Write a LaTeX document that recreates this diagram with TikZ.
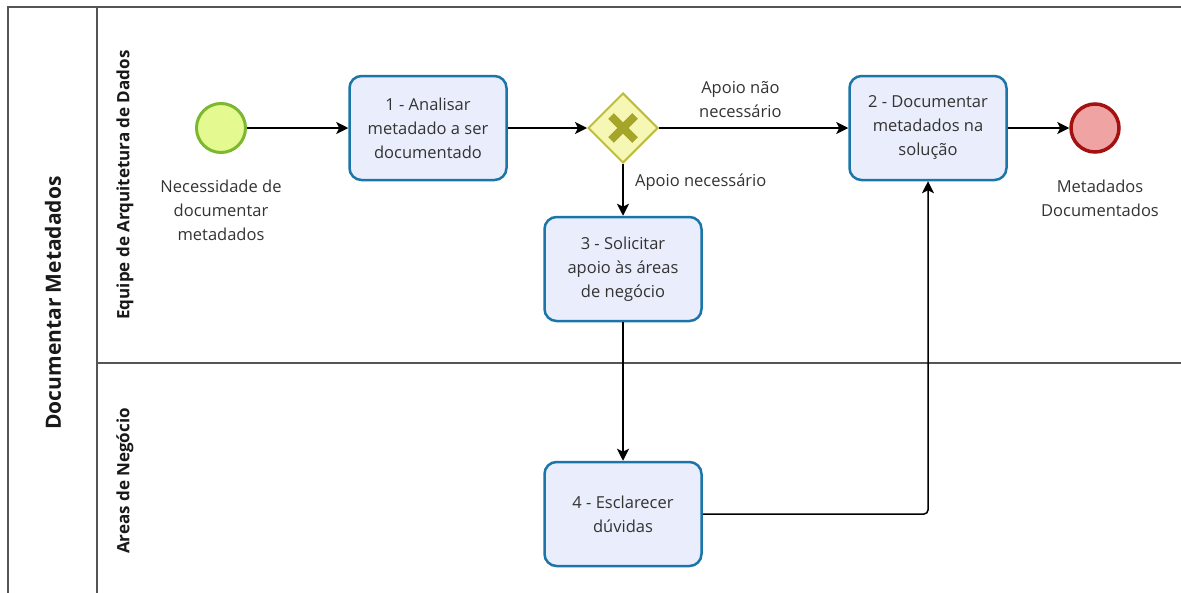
\documentclass[tikz,border=0pt]{standalone}
\usepackage{fontspec}
\setmainfont{Open Sans}
\usetikzlibrary{shapes.geometric,arrows.meta}
\definecolor{taskfill}{HTML}{EAEEFC}
\definecolor{taskline}{HTML}{1B75A8}
\definecolor{txt}{HTML}{333333}
\definecolor{startfill}{HTML}{E4F98F}
\definecolor{startline}{HTML}{7CB82F}
\definecolor{endfill}{HTML}{EFA3A3}
\definecolor{endline}{HTML}{A51010}
\definecolor{gwfill}{HTML}{F7F7B5}
\definecolor{gwline}{HTML}{BDBD3A}
\definecolor{gwmark}{HTML}{A5A52A}
\definecolor{pool}{HTML}{555555}
\tikzset{
  taskbox/.style={draw=taskline, fill=taskfill, line width=2.5pt, rounded corners=12pt,
    minimum width=157pt, minimum height=104pt, align=center, text=txt,
    font=\fontsize{16.5}{24}\selectfont, inner sep=2pt},
  startev/.style={circle, draw=startline, fill=startfill, line width=3pt, minimum size=49pt, inner sep=0pt},
  endev/.style={circle, draw=endline, fill=endfill, line width=3.5pt, minimum size=48pt, inner sep=0pt},
  gw/.style={diamond, draw=gwline, fill=gwfill, line width=2pt, minimum width=70pt, minimum height=70pt, inner sep=0pt, aspect=1},
  lbl/.style={align=center, text=txt, font=\fontsize{16.5}{24}\selectfont},
  flow/.style={line width=1.5pt, -{Stealth[length=12pt,width=12pt,inset=3pt]}},
  lanetitle/.style={rotate=90, font=\bfseries\fontsize{17}{20}\selectfont, text=black!90},
  pooltitle/.style={rotate=90, font=\bfseries\fontsize{21}{24}\selectfont, text=black!90},
}
\begin{document}
\begin{tikzpicture}[x=1pt,y=-1pt]
\useasboundingbox (0,0) rectangle (1181,592);
% pool and lanes
\draw[pool, line width=1.5pt] (8,600) -- (8,7) -- (1190,7);
\draw[pool, line width=1.5pt] (97,7) -- (97,600);
\draw[pool, line width=1.5pt] (97,363) -- (1190,363);
\node[pooltitle] (pt) at (53,303) {Documentar Metadados};
\node[lanetitle] (l1) at (125,185) {Equipe de Arquitetura de Dados};
\node[lanetitle] (l2) at (125,481) {Areas de Negócio};
% nodes
\node[startev] (s) at (221,128) {};
\node[lbl, anchor=north] (sl) at (221,176) {Necessidade de\\documentar\\metadados};
\node[taskbox] (t1) at (428,128) {1 - Analisar\\metadado a ser\\documentado};
\node[gw] (g) at (623,128) {};
\draw[gwmark, line width=8pt] ([shift={(-12,-12)}]g.center) -- ([shift={(12,12)}]g.center)
  ([shift={(-12,12)}]g.center) -- ([shift={(12,-12)}]g.center);
\node[taskbox] (t2) at (928,128) {2 - Documentar\\metadados na\\solução};
\node[endev] (e) at (1095,128) {};
\node[lbl, anchor=north] (el) at (1100,176) {Metadados\\Documentados};
\node[taskbox] (t3) at (623,269) {3 - Solicitar\\apoio às áreas\\de negócio};
\node[taskbox] (t4) at (623,514) {4 - Esclarecer\\dúvidas};
% flows
\draw[flow] (s) -- (t1);
\draw[flow] (t1) -- (g);
\draw[flow] (g) -- node[lbl, above=6pt, pos=0.43] (lbl1) {Apoio não\\necessário} (t2);
\draw[flow] (g) -- node[lbl, right=8pt, pos=0.35] (lbl2) {Apoio necessário} (t3);
\draw[flow] (t2) -- (e);
\draw[flow] (t3) -- (t4);
\draw[flow, rounded corners=4pt] (t4.east) -| (t2.south);
\end{tikzpicture}
\end{document}
